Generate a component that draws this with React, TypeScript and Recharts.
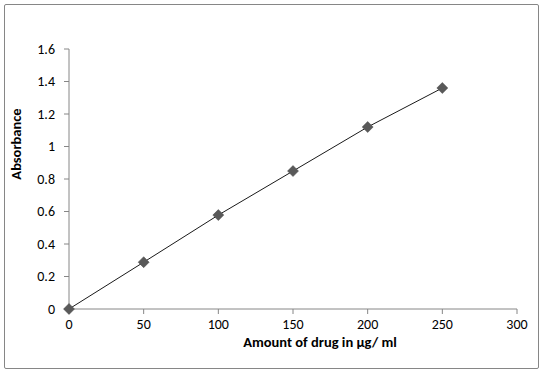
import React from "react"
import { LineChart, Line, XAxis, YAxis, Label } from "recharts"

// drug amount (µg/ml) vs absorbance
const amounts = [0, 50, 100, 150, 200, 250]
const absorbance = [0, 0.288, 0.578, 0.849, 1.12, 1.36]
const xTicks = [0, 50, 100, 150, 200, 250, 300]
const yTicks = [0, 0.2, 0.4, 0.6, 0.8, 1, 1.2, 1.4, 1.6]

const data = amounts.map((x, i) => ({ x, y: absorbance[i] }))

const FONT = "Calibri, Carlito, Lato, sans-serif"
const AXIS = "#868686"

const Diamond = (props: any) => {
  const { cx, cy } = props
  if (cx == null || cy == null) return null
  const r = 5.5
  return (
    <path
      key={`d-${cx}`}
      d={`M${cx},${cy - r}L${cx + r},${cy}L${cx},${cy + r}L${cx - r},${cy}Z`}
      fill="#595959"
      stroke="#4a4a4a"
      strokeWidth={0.5}
    />
  )
}

export default function App() {
  return (
    <div style={{ position: "fixed", left: 0, top: 0, width: 544, height: 375, background: "#fff" }}>
      <div
        style={{
          position: "absolute",
          left: 4,
          top: 4,
          width: 533,
          height: 363,
          border: "1px solid #868686",
          borderRadius: 2,
        }}
      />
      <LineChart
        width={544}
        height={375}
        data={data}
        margin={{ top: 49, right: 27, bottom: 0, left: 0 }}
        style={{ position: "absolute", left: 0, top: 0 }}
      >
        <XAxis
          dataKey="x"
          type="number"
          domain={[0, 300]}
          ticks={xTicks}
          interval={0}
          stroke={AXIS}
          tickSize={5}
          tickMargin={5}
          tick={{ fill: "#000", fontSize: 14, fontFamily: FONT }}
          height={66}
        >
          <Label
            content={(p: any) => {
              const vb = p.viewBox
              return (
                <text
                  x={vb.x + 251}
                  y={vb.y + 38}
                  textAnchor="middle"
                  fontFamily={FONT}
                  fontSize={14.5}
                  fontWeight="bold"
                  fill="#000"
                >
                  Amount of drug in µg/ ml
                </text>
              )
            }}
          />
        </XAxis>
        <YAxis
          type="number"
          domain={[0, 1.6]}
          ticks={yTicks}
          interval={0}
          stroke={AXIS}
          width={69}
          tickSize={5}
          tickMargin={9}
          tick={{ fill: "#000", fontSize: 14, fontFamily: FONT }}
        >
          <Label
            content={(p: any) => {
              const vb = p.viewBox
              const cx = vb.x + 16
              const cy = vb.y + 95
              return (
                <text
                  x={cx}
                  y={cy}
                  transform={`rotate(-90 ${cx} ${cy})`}
                  textAnchor="middle"
                  dominantBaseline="central"
                  fontFamily={FONT}
                  fontSize={14.5}
                  fontWeight="bold"
                  fill="#000"
                >
                  Absorbance
                </text>
              )
            }}
          />
        </YAxis>
        <Line
          dataKey="y"
          stroke="#1a1a1a"
          strokeWidth={1}
          dot={Diamond}
          activeDot={false}
          isAnimationActive={false}
        />
      </LineChart>
    </div>
  )
}
